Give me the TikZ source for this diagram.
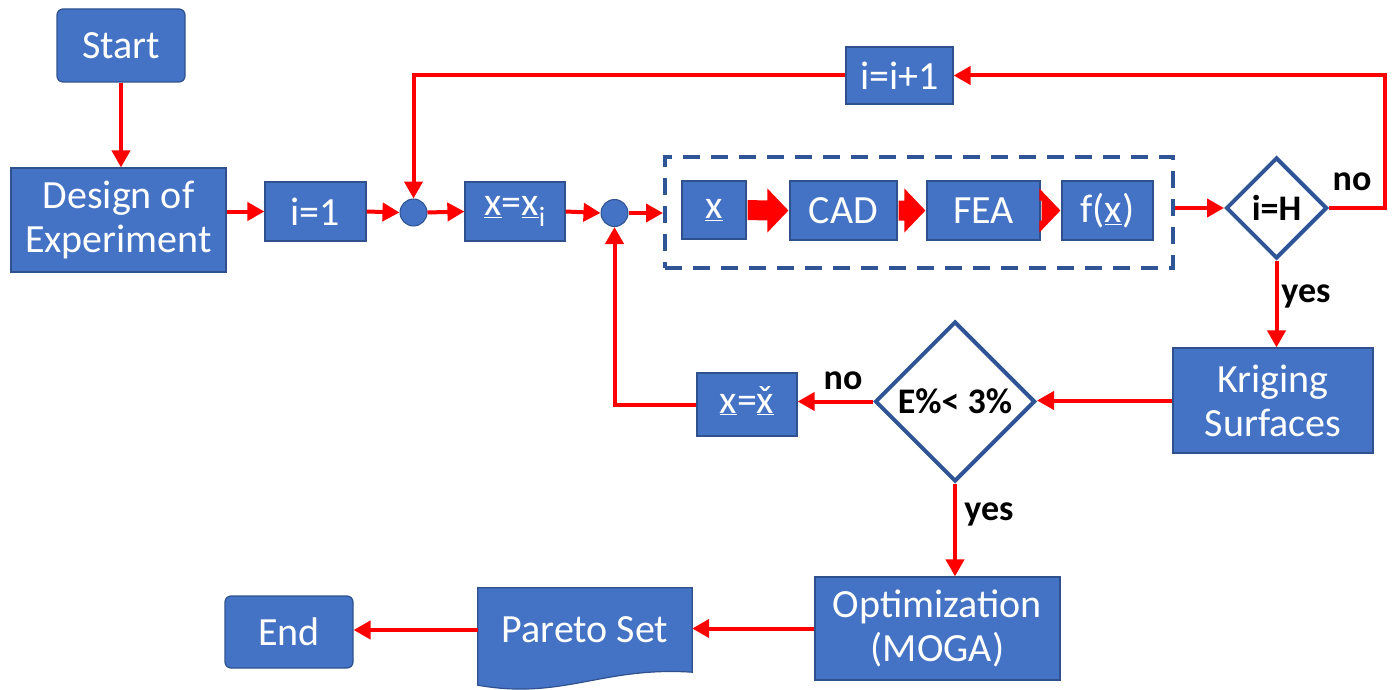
\documentclass[tikz,border=0pt]{standalone}
\usepackage{fontspec}
\setmainfont{Carlito}
\usetikzlibrary{arrows.meta,shapes.geometric,calc}
\pgfdeclarelayer{background}
\pgfsetlayers{background,main}
\definecolor{boxblue}{HTML}{4472C4}
\definecolor{boxedge}{HTML}{2F528F}
\definecolor{frameblue}{HTML}{2F5597}
\definecolor{flowred}{HTML}{FF0000}

% x with a caron set above it
\newcommand\xcaron{{\ooalign{x\cr\hidewidth\char"02C7\hidewidth\cr}}}
% broad block arrow from the east side of #1 to the west side of #2
\newcommand\fatarrow[2]{%
  \fill[flowred] ($(#1.east)+(1,-10)$) -- ($(#2.west)+(-22,-10)$)
    -- ($(#2.west)+(-22,-22)$) -- ($(#2.west)+(-1,0)$) -- ($(#2.west)+(-22,22)$)
    -- ($(#2.west)+(-22,10)$) -- ($(#1.east)+(1,10)$) -- cycle;}

\begin{document}
\begin{tikzpicture}[x=1pt,y=-1pt,
  box/.style={fill=boxblue,draw=boxedge,line width=1.2pt,text=white,
    font=\fontsize{40}{44}\selectfont,align=center,inner sep=0pt},
  rbox/.style={box,rounded corners=6pt},
  junction/.style={circle,fill=boxblue,draw=boxedge,line width=1pt,minimum size=27pt,inner sep=0pt},
  decision/.style={diamond,aspect=1,fill=white,draw=frameblue,line width=4pt,inner sep=0pt,
    font=\fontsize{36}{40}\selectfont\bfseries},
  answer/.style={font=\fontsize{36}{40}\selectfont\bfseries,inner sep=0pt},
  flow/.style={draw=flowred,line width=4pt,-{Triangle[length=17pt,width=18pt]}},
  loopframe/.style={draw=frameblue,line width=4pt,dash pattern=on 17pt off 11pt,inner sep=0pt}
]
\useasboundingbox (0,0) rectangle (1392,690);

% main chain
\node[rbox,minimum width=128pt,minimum height=73pt] (start) at (121,45.5) {Start};
\node[box,minimum width=215pt,minimum height=104pt] (doe) at (118.5,220) {Design of\\Experiment};
\node[box,minimum width=101pt,minimum height=59pt] (i1) at (315.5,211.5) {i=1};
\node[junction] (c1) at (413.5,212.5) {};
\node[box,minimum width=100pt,minimum height=59pt] (xxi) at (515,211.5) {\underline{x}=\underline{x}\textsubscript{i}};
\node[junction] (c2) at (614.5,213) {};

% evaluation block
\node[loopframe,minimum width=508pt,minimum height=111pt] (loop) at (919,212.5) {};
\node[box,minimum width=64pt,minimum height=58pt] (xb) at (714,210) {\underline{x}};
\node[box,minimum width=107pt,minimum height=59pt] (cad) at (843.5,210.5) {CAD};
\node[box,minimum width=113pt,minimum height=59pt] (fea) at (983.5,210.5) {FEA};
\node[box,minimum width=91pt,minimum height=59pt] (fx) at (1107.5,210.5) {f(\underline{x})};

\node[decision,minimum width=101pt,minimum height=101pt] (ih) at (1276.5,208) {i=H};
\node[box,minimum width=107pt,minimum height=57pt] (iip) at (899.5,75.5) {i=i+1};

% surrogate and optimisation
\node[box,minimum width=200pt,minimum height=105pt] (krig) at (1273,400.5) {Kriging\\Surfaces};
\node[decision,minimum width=160pt,minimum height=160pt] (err) at (955,401.5) {E\%{}< 3\%};
\node[box,minimum width=100pt,minimum height=63pt] (xch) at (747,404.5) {\underline{x}=\underline{\xcaron}};
\node[box,minimum width=245pt,minimum height=103pt] (opt) at (937.5,628.5) {Optimization\\(MOGA)};
\node[text=white,font=\fontsize{40}{44}\selectfont,inner sep=0pt,
  minimum width=214pt,minimum height=84pt] (pareto) at (585,630) {Pareto Set};
\begin{pgfonlayer}{background}
  \fill[boxblue,draw=boxedge,line width=1.2pt]
    (pareto.north west) -- (pareto.north east) -- (pareto.south east)
    .. controls ($(pareto.south east)+(-90,-6)$) and ($(pareto.south west)+(85,28)$)
    .. ($(pareto.south west)+(0,13)$) -- cycle;
\end{pgfonlayer}
\node[rbox,minimum width=128pt,minimum height=72pt] (end) at (289,632) {End};

% answer labels
\node[answer] (noA) at (1352,182) {no};
\node[answer] (yesA) at (1306,296) {yes};
\node[answer] (noB) at (843,381) {no};
\node[answer] (yesB) at (989,514) {yes};

% connectors
\draw[flow] (start.south) -- (start.south |- doe.north);
\draw[flow] (doe.east |- i1.west) -- (i1.west);
\draw[flow] (i1.east) -- (c1.west);
\draw[flow] (c1.east) -- (xxi.west);
\draw[flow] (xxi.east) -- (c2.west);
\draw[flow] (c2.east) -- (c2.east -| loop.west);

\fatarrow{xb}{cad}
\fatarrow{cad}{fea}
\fatarrow{fea}{fx}

\draw[flow] (loop.east |- ih.west) -- (ih.west);
\coordinate (turn) at (1385,75.5);
\draw[flow] (ih.east) -| (turn) -- (iip.east);
\draw[flow] (iip.west) -| (c1.north);

\draw[flow] (ih.south) -- (ih.south |- krig.north);
\draw[flow] (krig.west) -- (krig.west -| err.east);
\draw[flow] (err.west) -- (err.west -| xch.east);
\draw[flow] (xch.west) -| (c2.south);
\draw[flow] (err.south) -- (err.south |- opt.north);
\draw[flow] (opt.west) -- (opt.west -| pareto.east);
\draw[flow] (pareto.west) -- (pareto.west -| end.east);
\end{tikzpicture}
\end{document}
